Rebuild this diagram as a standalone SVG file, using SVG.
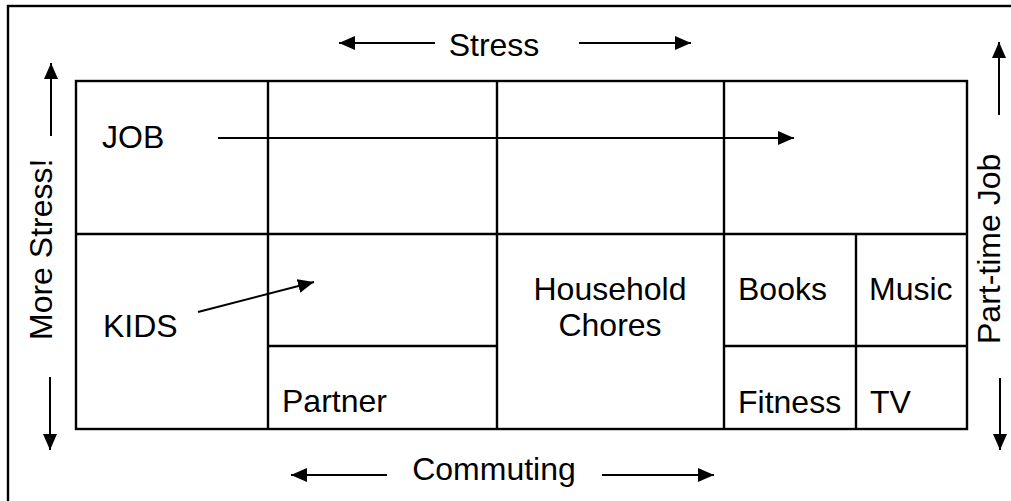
<svg xmlns="http://www.w3.org/2000/svg" width="1011" height="501" viewBox="0 0 1011 501">
<style>
.ln{stroke:#000;stroke-width:2.4;fill:none}
.ar{stroke:#000;stroke-width:2;fill:none}
.t{font-family:"Liberation Sans",Arial,sans-serif;font-size:32px;fill:#000}
.m{text-anchor:middle}
</style>
<defs>
<marker id="ah" viewBox="0 0 16 14" refX="16" refY="7" markerWidth="16" markerHeight="14" markerUnits="userSpaceOnUse" orient="auto">
<path d="M0,0 L16,7 L0,14 Z" fill="#000"/>
</marker>
</defs>
<rect width="1011" height="501" fill="#fff"/>
<rect x="8" y="6" width="1020" height="520" class="ln"/>
<g id="grid">
<rect x="76" y="81" width="891" height="348" class="ln"/>
<line x1="76" y1="234" x2="967" y2="234" class="ln"/>
<line x1="268" y1="81" x2="268" y2="429" class="ln"/>
<line x1="497" y1="81" x2="497" y2="429" class="ln"/>
<line x1="724" y1="81" x2="724" y2="429" class="ln"/>
<line x1="856" y1="234" x2="856" y2="429" class="ln"/>
<line x1="268" y1="346" x2="497" y2="346" class="ln"/>
<line x1="724" y1="346" x2="967" y2="346" class="ln"/>
</g>
<g id="job"><text class="t" x="102" y="148">JOB</text></g>
<g id="kids"><text class="t" x="103" y="337">KIDS</text></g>
<g id="partner"><text class="t" x="282" y="412">Partner</text></g>
<g id="household"><text class="t m" x="610" y="300">Household</text><text class="t m" x="610" y="336">Chores</text></g>
<g id="books"><text class="t" x="738" y="300">Books</text></g>
<g id="music"><text class="t" x="869" y="300">Music</text></g>
<g id="fitness"><text class="t" x="738" y="413">Fitness</text></g>
<g id="tv"><text class="t" x="870" y="413">TV</text></g>
<g id="stress"><text class="t m" x="494" y="56">Stress</text></g>
<g id="commuting"><text class="t m" x="494" y="480">Commuting</text></g>
<g id="more-stress"><text class="t" transform="translate(52,340) rotate(-90)">More Stress!</text></g>
<g id="part-time"><text class="t" transform="translate(1000,344) rotate(-90)">Part-time Job</text></g>
<g id="connectors">
<line x1="218" y1="138" x2="794" y2="138" class="ar" marker-end="url(#ah)"/>
<line x1="198" y1="312" x2="314" y2="282" class="ar" marker-end="url(#ah)"/>
<line x1="435" y1="43" x2="339" y2="43" class="ar" marker-end="url(#ah)"/>
<line x1="579" y1="43" x2="691" y2="43" class="ar" marker-end="url(#ah)"/>
<line x1="387" y1="475" x2="291" y2="475" class="ar" marker-end="url(#ah)"/>
<line x1="602" y1="475" x2="714" y2="475" class="ar" marker-end="url(#ah)"/>
<line x1="51" y1="136" x2="51" y2="63" class="ar" marker-end="url(#ah)"/>
<line x1="50" y1="377" x2="50" y2="450" class="ar" marker-end="url(#ah)"/>
<line x1="999" y1="115" x2="999" y2="42" class="ar" marker-end="url(#ah)"/>
<line x1="1000" y1="378" x2="1000" y2="450" class="ar" marker-end="url(#ah)"/>
</g>
</svg>
